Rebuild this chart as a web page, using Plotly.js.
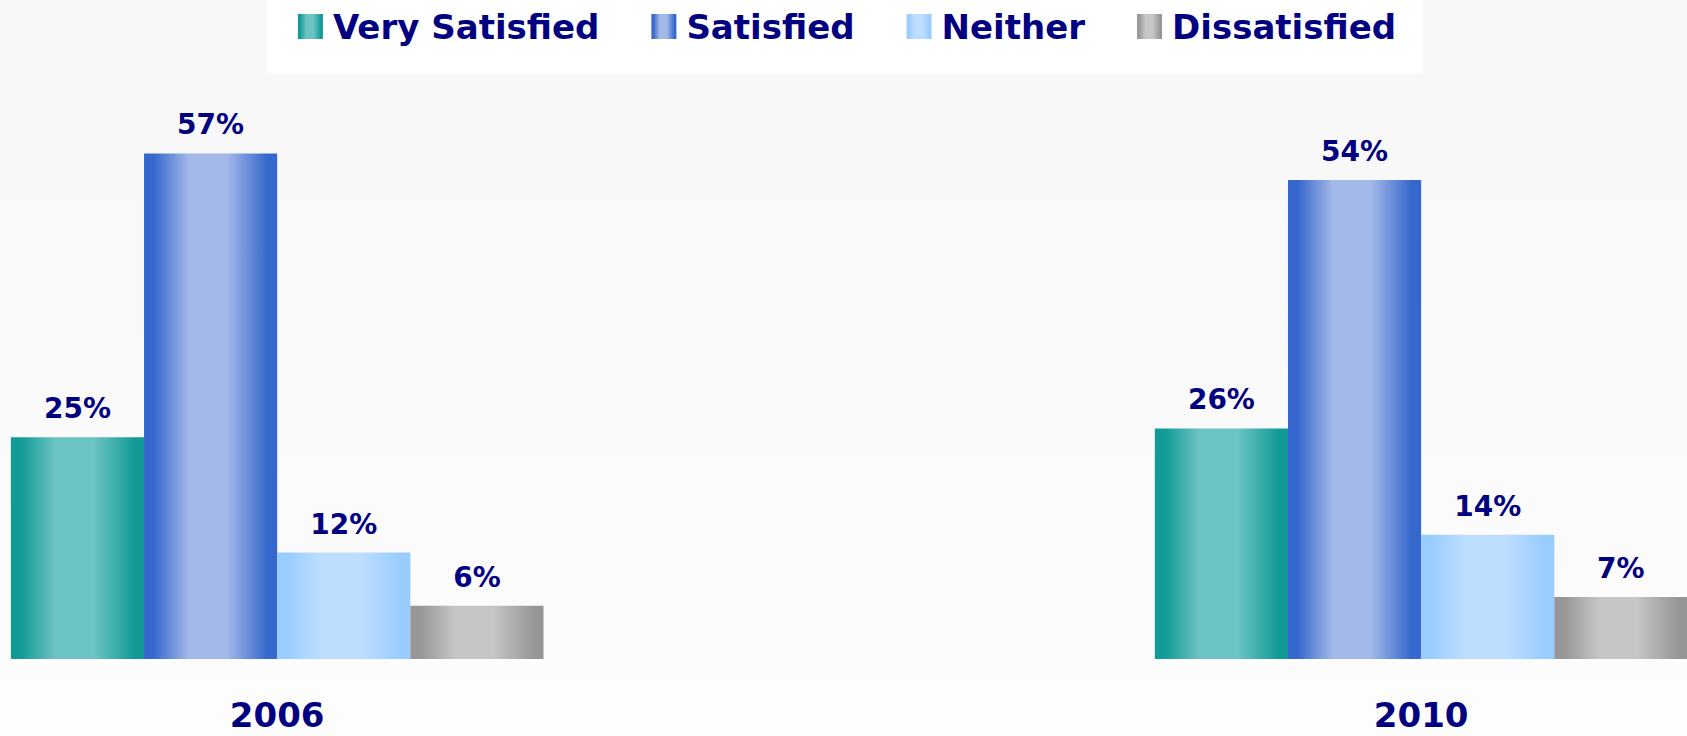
<!DOCTYPE html>
<html>
<head>
<meta charset="utf-8">
<script src="https://cdn.plot.ly/plotly-3.0.1.min.js"></script>
<style>
  html, body { margin: 0; padding: 0; }
  body { width: 1687px; height: 736px; overflow: hidden;
         background: linear-gradient(to bottom, #f7f7f7 0%, #fafafa 55%, #fdfdfd 100%); }
  #chart { width: 1687px; height: 736px; }
</style>
</head>
<body>
<div id="chart"></div>
<script>
// ---------- data ----------
const years = ['2006', '2010'];
const seriesNames = ['Very Satisfied', 'Satisfied', 'Neither', 'Dissatisfied'];
const verySatisfied = [25, 26];
const satisfied = [57, 54];
const neither = [12, 14];
const dissatisfied = [6, 7];

// ---------- styles ----------
const NAVY = '#000080';
const FONT = 'DejaVu Sans, Verdana, sans-serif';
// [edge colour, centre colour] for the horizontal bar gradients
const gradColors = [
  ['#129a97', '#6cc4c2'],
  ['#3567cc', '#a4b9e8'],
  ['#99ccff', '#bedeff'],
  ['#969696', '#c6c6c6']
];
const seriesValues = [verySatisfied, satisfied, neither, dissatisfied];

const traces = seriesValues.map((vals, i) => ({
  type: 'bar',
  name: seriesNames[i],
  x: years,
  y: vals,
  marker: { color: gradColors[i][0], line: { width: 0 } },
  texttemplate: '%{y}%',
  textposition: 'outside',
  cliponaxis: false,
  textfont: { family: FONT, size: 28, color: NAVY, weight: 'bold' },
  hoverinfo: 'skip'
}));

const layout = {
  width: 1687,
  height: 736,
  margin: { l: 0, r: 0, t: 0, b: 77, pad: 0 },
  paper_bgcolor: 'rgba(0,0,0,0)',
  plot_bgcolor: 'rgba(0,0,0,0)',
  barmode: 'group',
  bargap: 0.5344,
  bargroupgap: 0,
  showlegend: true,
  legend: {
    orientation: 'h',
    x: 0.5, xanchor: 'center',
    y: 1, yanchor: 'top',
    bgcolor: 'rgba(0,0,0,0)',
    borderwidth: 0,
    font: { family: FONT, size: 34, color: NAVY, weight: 'bold' }
  },
  xaxis: {
    type: 'category',
    range: [-0.2423, 1.2324],
    showgrid: false, zeroline: false, showline: false,
    ticks: '',
    ticklabelstandoff: 33,
    automargin: false,
    fixedrange: true,
    tickfont: { family: FONT, size: 34, color: NAVY, weight: 'bold' }
  },
  yaxis: {
    range: [0, 74.3],
    visible: false,
    showgrid: false, zeroline: false,
    fixedrange: true
  },
  shapes: [{
    type: 'rect', xref: 'paper', yref: 'paper', layer: 'below',
    x0: 267 / 1687, x1: 1423 / 1687,
    y0: 1 - 74 / 659, y1: 1,
    fillcolor: '#ffffff', line: { width: 0 }
  }]
};

const SVGNS = 'http://www.w3.org/2000/svg';

function ensureGradients(svg) {
  let defs = svg.querySelector('defs');
  if (!defs) { defs = document.createElementNS(SVGNS, 'defs'); svg.insertBefore(defs, svg.firstChild); }
  gradColors.forEach((c, i) => {
    const id = 'barGrad' + i;
    if (defs.querySelector('#' + id)) return;
    const lg = document.createElementNS(SVGNS, 'linearGradient');
    lg.setAttribute('id', id);
    lg.setAttribute('x1', '0'); lg.setAttribute('y1', '0');
    lg.setAttribute('x2', '1'); lg.setAttribute('y2', '0');
    [[0, c[0]], [0.07, c[0]], [0.34, c[1]], [0.62, c[1]], [0.93, c[0]], [1, c[0]]].forEach(s => {
      const st = document.createElementNS(SVGNS, 'stop');
      st.setAttribute('offset', s[0]);
      st.setAttribute('stop-color', s[1]);
      lg.appendChild(st);
    });
    defs.appendChild(lg);
  });
}

const LABEL_SHIFT = 9;      // extra lift for value labels
const LEG_CENTER = 847, LEG_CY = 25.5, SW = 25, GAP_TXT = 10, GAP_ITEM = 52;

function decorate() {
  const gd = document.getElementById('chart');
  const svg = gd.querySelector('svg.main-svg');
  if (!svg) return;
  ensureGradients(svg);

  // bars
  gd.querySelectorAll('.barlayer .trace').forEach((tg, i) => {
    tg.querySelectorAll('path').forEach(p => {
      p.style.fill = 'url(#barGrad' + i + ')';
      p.style.stroke = 'none';
    });
    tg.querySelectorAll('text').forEach(t => {
      if (t.dataset.shifted) return;
      const tr = t.getAttribute('transform') || '';
      t.setAttribute('transform', tr + ' translate(0,' + (-LABEL_SHIFT) + ')');
      t.dataset.shifted = '1';
    });
  });

  // legend
  const leg = gd.querySelector('.legend');
  if (!leg) return;
  leg.removeAttribute('clip-path');
  leg.querySelectorAll('[clip-path]').forEach(el => el.removeAttribute('clip-path'));
  const items = Array.from(leg.querySelectorAll('.traces'));
  const widths = items.map(it => it.querySelector('text.legendtext').getComputedTextLength());
  let total = GAP_ITEM * (items.length - 1);
  widths.forEach(w => { total += SW + GAP_TXT + w; });
  let x = LEG_CENTER - total / 2;
  items.forEach((it, i) => {
    const txt = it.querySelector('text.legendtext');
    const pm = it.parentNode.getCTM();
    const tx = (x + SW + GAP_TXT) - pm.e - parseFloat(txt.getAttribute('x') || 0);
    const ty = LEG_CY - pm.f;
    it.setAttribute('transform', 'translate(' + tx + ',' + ty + ')');
    it.querySelectorAll('.legendpoints path').forEach(p => {
      const m = p.getCTM();
      const cx = x + SW / 2 - m.e, cy = LEG_CY + 1 - m.f, h = SW / 2;
      p.setAttribute('d', 'M' + (cx + h) + ',' + (cy + h) + 'H' + (cx - h) + 'V' + (cy - h) + 'H' + (cx + h) + 'Z');
      p.style.fill = 'url(#barGrad' + i + ')';
      p.style.stroke = 'none';
    });
    x += SW + GAP_TXT + widths[i] + GAP_ITEM;
  });
}

Plotly.newPlot('chart', traces, layout, { displayModeBar: false, responsive: false }).then(gd => {
  decorate();
  gd.on('plotly_afterplot', decorate);
});
</script>
</body>
</html>
